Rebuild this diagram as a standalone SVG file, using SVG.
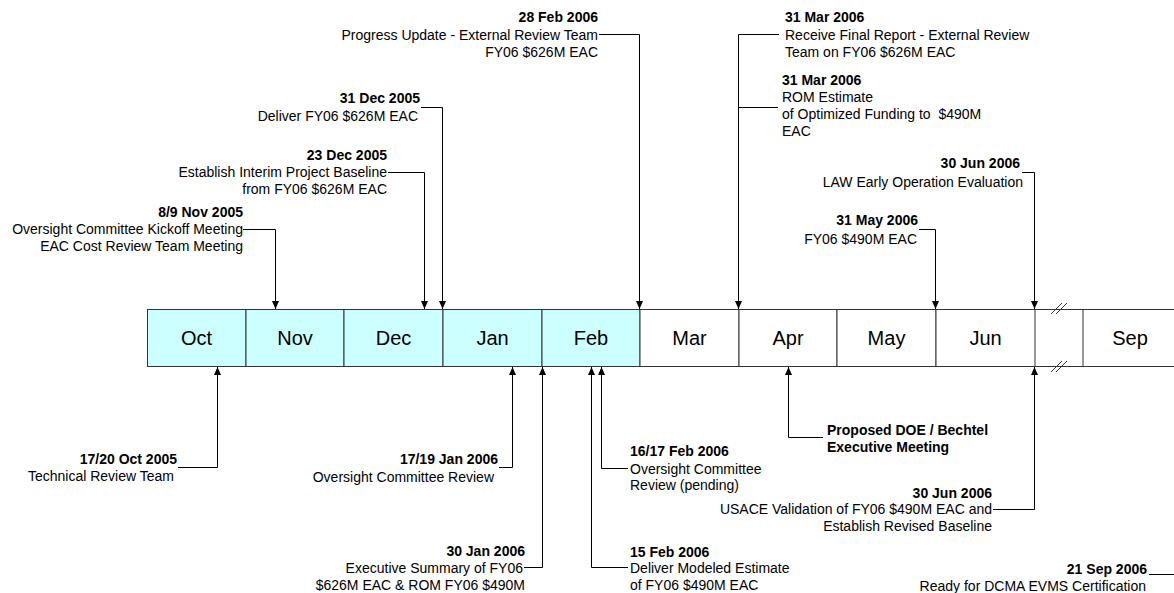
<svg xmlns="http://www.w3.org/2000/svg" width="1174" height="593" viewBox="0 0 1174 593">
<defs>
<style>
.t{font-family:"Liberation Sans",Arial,sans-serif;font-size:14px;fill:#000}
.b{font-weight:bold}
.e{text-anchor:end}
.m{font-family:"Liberation Sans",Arial,sans-serif;font-size:20px;fill:#000;text-anchor:middle}
.past{fill:#ccffff;stroke:#333;stroke-width:1}
.fut{fill:#fff;stroke:#333;stroke-width:1}
.c{fill:none;stroke:#000;stroke-width:1}
</style>
<marker id="arr" viewBox="0 0 8 7" refX="8" refY="3.5" markerWidth="8" markerHeight="7" orient="auto" markerUnits="userSpaceOnUse">
<path d="M0,0 L8,3.5 L0,7 z" fill="#000"/>
</marker>
</defs>
<rect width="1174" height="593" fill="#fff"/>

<g id="timeline">
<g id="m-oct"><rect class="past" x="147.5" y="309.5" width="98.5" height="57"/><text class="m" x="196.5" y="345">Oct</text></g>
<g id="m-nov"><rect class="past" x="246" y="309.5" width="98" height="57"/><text class="m" x="295" y="345">Nov</text></g>
<g id="m-dec"><rect class="past" x="344" y="309.5" width="99" height="57"/><text class="m" x="393.5" y="345">Dec</text></g>
<g id="m-jan"><rect class="past" x="443" y="309.5" width="99" height="57"/><text class="m" x="492.5" y="345">Jan</text></g>
<g id="m-feb"><rect class="past" x="542" y="309.5" width="98" height="57"/><text class="m" x="591" y="345">Feb</text></g>
<g id="m-mar"><rect class="fut" x="640" y="309.5" width="99" height="57"/><text class="m" x="689.5" y="345">Mar</text></g>
<g id="m-apr"><rect class="fut" x="739" y="309.5" width="98" height="57"/><text class="m" x="788" y="345">Apr</text></g>
<g id="m-may"><rect class="fut" x="837" y="309.5" width="99" height="57"/><text class="m" x="886.5" y="345">May</text></g>
<g id="m-jun"><rect class="fut" x="936" y="309.5" width="99" height="57"/><text class="m" x="985.5" y="345">Jun</text></g>
<g id="gap">
<path d="M1035,309.5 H1083 M1035,366.5 H1083" stroke="#333" fill="none"/>
<path d="M1051,314 L1062,303 M1056,314 L1067,303 M1051,372 L1062,361 M1056,372 L1067,361" stroke="#333" fill="none"/>
</g>
<g id="m-sep"><rect class="fut" x="1083" y="309.5" width="100" height="57"/><text class="m" x="1130" y="345">Sep</text></g>
</g>

<g id="connectors">
<polyline class="c" points="243,229.5 275.5,229.5 275.5,309" marker-end="url(#arr)"/>
<polyline class="c" points="388,172.5 424.5,172.5 424.5,309" marker-end="url(#arr)"/>
<polyline class="c" points="421,107.5 442.5,107.5 442.5,309" marker-end="url(#arr)"/>
<polyline class="c" points="599,34.5 639.5,34.5 639.5,309" marker-end="url(#arr)"/>
<polyline class="c" points="779,34.5 738.5,34.5 738.5,309" marker-end="url(#arr)"/>
<polyline class="c" points="778,107.5 738.5,107.5"/>
<polyline class="c" points="919,229.5 935.5,229.5 935.5,309" marker-end="url(#arr)"/>
<polyline class="c" points="1022,172.5 1034.5,172.5 1034.5,309" marker-end="url(#arr)"/>
<polyline class="c" points="178,467.5 217.5,467.5 217.5,367" marker-end="url(#arr)"/>
<polyline class="c" points="499,467.5 512.5,467.5 512.5,367" marker-end="url(#arr)"/>
<polyline class="c" points="524,567.5 542.5,567.5 542.5,367" marker-end="url(#arr)"/>
<polyline class="c" points="628,567.5 591.5,567.5 591.5,367" marker-end="url(#arr)"/>
<polyline class="c" points="628,468.5 601.5,468.5 601.5,367" marker-end="url(#arr)"/>
<polyline class="c" points="823,437.5 788.5,437.5 788.5,367" marker-end="url(#arr)"/>
<polyline class="c" points="993,509.5 1034.5,509.5 1034.5,367" marker-end="url(#arr)"/>
<polyline class="c" points="1149,574.5 1174,574.5"/>
</g>

<g id="ev-nov">
<text class="t b e" x="243" y="217">8/9 Nov 2005</text>
<text class="t e" x="243" y="234">Oversight Committee Kickoff Meeting</text>
<text class="t e" x="243" y="251">EAC Cost Review Team Meeting</text>
</g>
<g id="ev-23dec">
<text class="t b e" x="387" y="160">23 Dec 2005</text>
<text class="t e" x="387" y="177">Establish Interim Project Baseline</text>
<text class="t e" x="387" y="194">from FY06 $626M EAC</text>
</g>
<g id="ev-31dec">
<text class="t b e" x="420" y="103">31 Dec 2005</text>
<text class="t e" x="418" y="121">Deliver FY06 $626M EAC</text>
</g>
<g id="ev-28feb">
<text class="t b e" x="598" y="22">28 Feb 2006</text>
<text class="t e" x="598" y="39.5">Progress Update - External Review Team</text>
<text class="t e" x="598" y="57">FY06 $626M EAC</text>
</g>
<g id="ev-31mar-a">
<text class="t b" x="785" y="22">31 Mar 2006</text>
<text class="t" x="785" y="39.5">Receive Final Report - External Review</text>
<text class="t" x="785" y="57">Team on FY06 $626M EAC</text>
</g>
<g id="ev-31mar-b">
<text class="t b" x="782" y="85">31 Mar 2006</text>
<text class="t" x="782" y="102">ROM Estimate</text>
<text class="t" x="782" y="119" xml:space="preserve">of Optimized Funding to  $490M</text>
<text class="t" x="782" y="136">EAC</text>
</g>
<g id="ev-30jun-a">
<text class="t b e" x="1020" y="168">30 Jun 2006</text>
<text class="t e" x="1023" y="187">LAW Early Operation Evaluation</text>
</g>
<g id="ev-31may">
<text class="t b e" x="918" y="225">31 May 2006</text>
<text class="t e" x="917" y="244">FY06 $490M EAC</text>
</g>
<g id="ev-oct">
<text class="t b e" x="177" y="464">17/20 Oct 2005</text>
<text class="t e" x="174" y="481">Technical Review Team</text>
</g>
<g id="ev-jan17">
<text class="t b e" x="498" y="464">17/19 Jan 2006</text>
<text class="t e" x="494" y="482">Oversight Committee Review</text>
</g>
<g id="ev-jan30">
<text class="t b e" x="525" y="556">30 Jan 2006</text>
<text class="t e" x="523" y="573">Executive Summary of FY06</text>
<text class="t e" x="525" y="590">$626M EAC &amp; ROM FY06 $490M</text>
</g>
<g id="ev-feb16">
<text class="t b" x="630" y="456">16/17 Feb 2006</text>
<text class="t" x="630" y="474">Oversight Committee</text>
<text class="t" x="630" y="490">Review (pending)</text>
</g>
<g id="ev-feb15">
<text class="t b" x="630" y="557">15 Feb 2006</text>
<text class="t" x="630" y="573">Deliver Modeled Estimate</text>
<text class="t" x="630" y="590">of FY06 $490M EAC</text>
</g>
<g id="ev-doe">
<text class="t b" x="827" y="435">Proposed DOE / Bechtel</text>
<text class="t b" x="827" y="452">Executive Meeting</text>
</g>
<g id="ev-30jun-b">
<text class="t b e" x="992" y="498">30 Jun 2006</text>
<text class="t e" x="992" y="514">USACE Validation of FY06 $490M EAC and</text>
<text class="t e" x="992" y="531">Establish Revised Baseline</text>
</g>
<g id="ev-sep">
<text class="t b e" x="1147" y="574">21 Sep 2006</text>
<text class="t e" x="1146" y="591">Ready for DCMA EVMS Certification</text>
</g>
</svg>
